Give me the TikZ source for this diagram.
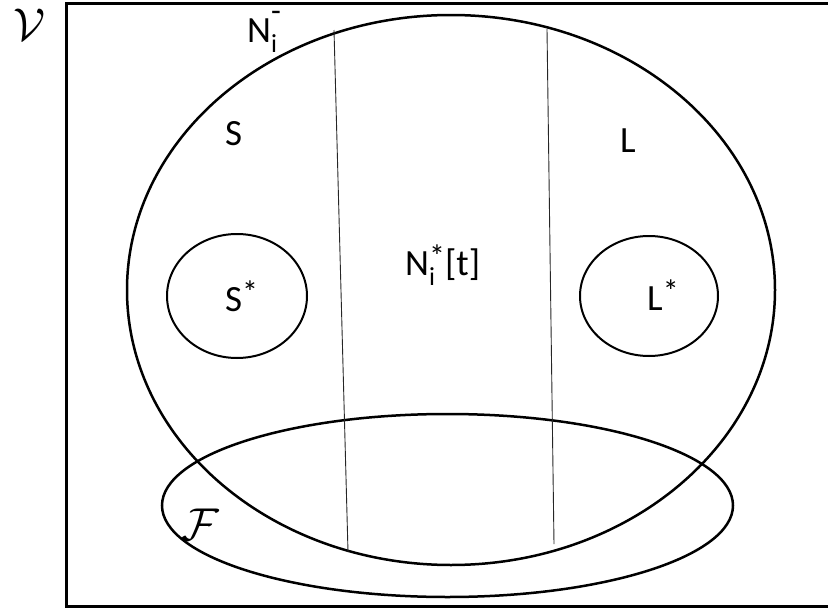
\documentclass[tikz,border=0pt]{standalone}
\usepackage{fontspec}
\setmainfont{Carlito}
\usetikzlibrary{shapes.geometric}
\newcommand{\myscriptsize}{\fontsize{26}{26}\selectfont}
\newcommand{\mystarsize}{\fontsize{32}{32}\selectfont}
\newcommand{\mysubsup}[2]{\makebox[0pt][l]{\raisebox{-0.28em}{\myscriptsize #1}}\raisebox{#2}{\mystarsize *}}
\newcommand{\mysubminus}{\makebox[0pt][l]{\raisebox{-0.28em}{\myscriptsize i}}\raisebox{0.55em}{\mystarsize -}}
\newcommand{\mystar}{\raisebox{0.2em}{\mystarsize *}}
\tikzset{
  setshape/.style={draw, ellipse, line width=2.5pt, inner sep=0pt},
  subshape/.style={draw, ellipse, line width=2pt, inner sep=0pt},
  divider/.style={line width=0.9pt, black!85},
  lbl/.style={inner sep=0pt, anchor=base west, font=\fontsize{37}{40}\selectfont},
  callbl/.style={inner sep=0pt, anchor=base west, scale=1.85, font=\fontsize{24.88}{26}\selectfont}
}
\begin{document}
\begin{tikzpicture}[x=1pt,y=-1pt]
\useasboundingbox (0,0) rectangle (828,613);
\clip (0,0) rectangle (828,613);
\node[draw, line width=3pt, inner sep=0pt, minimum width=790pt, minimum height=603pt, anchor=north west] (V) at (65,2) {};
\node[setshape, minimum width=648pt, minimum height=550pt] (Ni) at (451,290) {};
\node[setshape, minimum width=571pt, minimum height=183pt] (F) at (447.5,505.5) {};
\node[subshape, minimum width=140pt, minimum height=124pt] (Sstar) at (237,296) {};
\node[subshape, minimum width=138pt, minimum height=120pt] (Lstar) at (649,296) {};
\coordinate (d1t) at (334,30);
\coordinate (d1b) at (348,552);
\coordinate (d2t) at (547,29);
\coordinate (d2b) at (554,544);
\draw[divider] (d1t) -- (d1b);
\draw[divider] (d2t) -- (d2b);
\node[callbl] (Vl) at (13,40) {$\mathcal{V}$};
\node[callbl] (Fl) at (181,540) {$\mathcal{F}$};
\node[lbl] (Nm) at (247,42) {N\mysubminus};
\node[lbl] (Sl) at (225,145) {S};
\node[lbl] (Ll) at (620,152) {L};
\node[lbl] (Nt) at (405,275) {N\mysubsup{i}{0.2em}[t]};
\node[lbl] (Ssl) at (225,311) {S\mystar};
\node[lbl] (Lsl) at (647,310) {L\mystar};
\end{tikzpicture}
\end{document}
